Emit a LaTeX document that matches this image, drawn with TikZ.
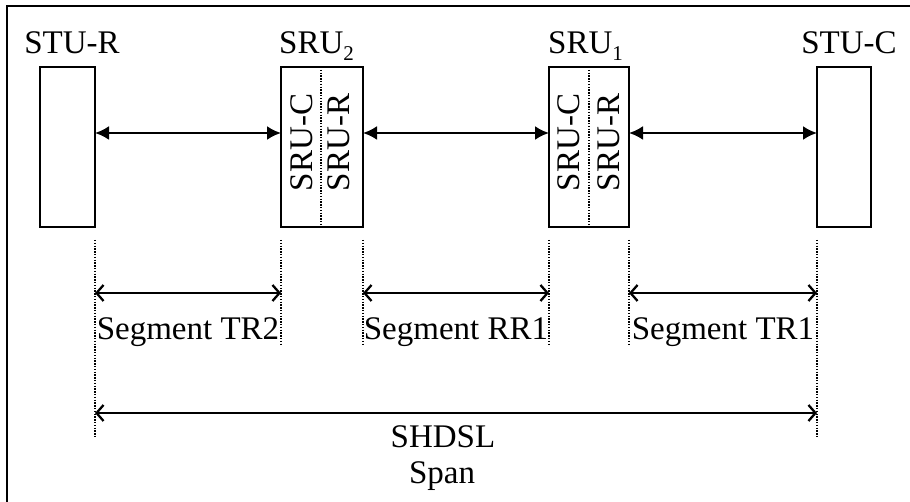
\documentclass[tikz,border=0pt]{standalone}
\usepackage{fontspec}
\setmainfont{Liberation Serif}
\usetikzlibrary{arrows.meta}
\newcommand{\lowsub}[1]{\raisebox{-7pt}{\fontsize{21}{21}\selectfont #1}}
\begin{document}
\begin{tikzpicture}[x=1pt,y=-1pt,
  unit/.style={draw,line width=2.3pt,minimum height=160pt,inner sep=0pt,outer sep=0pt},
  lbl/.style={font=\fontsize{33}{36}\selectfont,inner sep=0pt},
  vlbl/.style={font=\fontsize{33}{36}\selectfont,inner sep=0pt,rotate=90},
  link/.style={line width=2.3pt,{Latex[length=14pt,width=14pt]}-{Latex[length=14pt,width=14pt]}},
  seg/.style={line width=2.3pt,{Straight Barb[length=7pt,width=16pt,line width=2.3pt]}-{Straight Barb[length=7pt,width=16pt,line width=2.3pt]}},
  guide/.style={line width=1.2pt,dash pattern=on 1.4pt off 1.4pt},
  divider/.style={line width=1.2pt,dash pattern=on 1.4pt off 1.4pt}]
\useasboundingbox (0,0) rectangle (910,502);
% frame (left and top edges visible)
\draw[line width=2.4pt] (7,502) -- (7,6) -- (910,6);

% units
\node[unit,minimum width=55pt] (stur) at (67.5,147) {};
\node[unit,minimum width=82pt] (sru2) at (322,147) {};
\node[unit,minimum width=80pt] (sru1) at (589,147) {};
\node[unit,minimum width=54pt] (stuc) at (844,147) {};

% titles
\node[lbl,anchor=base] (tstur) at (72,54) {STU-R};
\node[lbl,anchor=base west] (tsru2) at (279,54) {SRU\lowsub{2}};
\node[lbl,anchor=base west] (tsru1) at (548,54) {SRU\lowsub{1}};
\node[lbl,anchor=base] (tstuc) at (849,54) {STU-C};

% dividers
\draw[divider] (321,67) coordinate (d2t) -- (321,227) coordinate (d2b);
\draw[divider] (sru1.north) -- (sru1.south);

% inner labels
\node[vlbl] (c2) at (301.5,142.5) {SRU-C};
\node[vlbl] (r2) at (339,142.5) {SRU-R};
\node[vlbl] (c1) at (568.5,142.5) {SRU-C};
\node[vlbl] (r1) at (608.5,142.5) {SRU-R};

% links
\draw[link] (stur.east |- 0,133) -- (sru2.west |- 0,133);
\draw[link] (sru2.east |- 0,133) -- (sru1.west |- 0,133);
\draw[link] (sru1.east |- 0,133) -- (stuc.west |- 0,133);

% guide lines
\coordinate (g1t) at (95,240);  \coordinate (g1b) at (95,438);
\coordinate (g2t) at (281,240); \coordinate (g2b) at (281,345);
\coordinate (g3t) at (363,240); \coordinate (g3b) at (363,345);
\coordinate (g4t) at (549,240); \coordinate (g4b) at (549,345);
\coordinate (g5t) at (629,240); \coordinate (g5b) at (629,345);
\coordinate (g6t) at (817,240); \coordinate (g6b) at (817,438);
\foreach \i in {1,...,6} \draw[guide] (g\i t) -- (g\i b);

% segment arrows
\coordinate (s1a) at (95,293);  \coordinate (s1b) at (281,293);
\coordinate (s2a) at (363,293); \coordinate (s2b) at (549,293);
\coordinate (s3a) at (629,293); \coordinate (s3b) at (817,293);
\coordinate (spa) at (95,413);  \coordinate (spb) at (817,413);
\draw[seg] (s1a) -- (s1b);
\draw[seg] (s2a) -- (s2b);
\draw[seg] (s3a) -- (s3b);
\draw[seg] (spa) -- (spb);

% segment labels
\node[lbl,anchor=base] (ls1) at (188,340) {Segment TR2};
\node[lbl,anchor=base] (ls2) at (456,340) {Segment RR1};
\node[lbl,anchor=base] (ls3) at (723,340) {Segment TR1};
\node[lbl,anchor=base] (lsp1) at (443,447) {SHDSL};
\node[lbl,anchor=base] (lsp2) at (442,483) {Span};
\end{tikzpicture}
\end{document}
